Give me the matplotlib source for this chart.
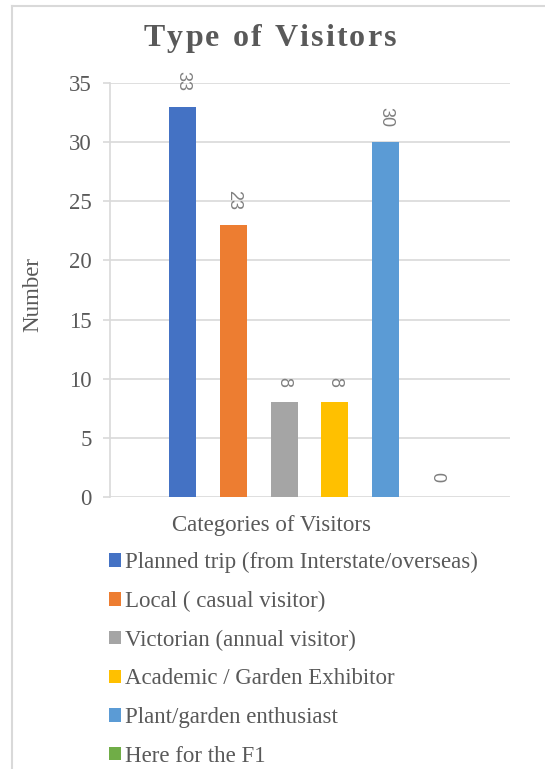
import matplotlib
matplotlib.use("Agg")
import matplotlib.pyplot as plt
from matplotlib.patches import Patch
from matplotlib.lines import Line2D

categories = ["Planned trip (from Interstate/overseas)", "Local ( casual visitor)",
              "Victorian (annual visitor)", "Academic / Garden Exhibitor",
              "Plant/garden enthusiast", "Here for the F1"]
values = [33, 23, 8, 8, 30, 0]
colors = ["#4472C4", "#ED7D31", "#A5A5A5", "#FFC000", "#5B9BD5", "#70AD47"]
yticks = [0, 5, 10, 15, 20, 25, 30, 35]

TXT = "#595959"
GRID = "#D9D9D9"
SERIF = "Liberation Serif"

W, H = 545, 769
fig = plt.figure(figsize=(W / 100, H / 100), dpi=100)

# outer chart border (left and top visible)
fig.add_artist(Line2D([12 / W, 12 / W], [0, 1 - 6 / H], color=GRID, lw=1.5, transform=fig.transFigure))
fig.add_artist(Line2D([12 / W, 1], [1 - 6 / H, 1 - 6 / H], color=GRID, lw=1.5, transform=fig.transFigure))

ax = fig.add_axes([110 / W, 1 - 497 / H, 400 / W, 414 / H])
xs = list(range(len(values)))
bars = ax.bar(xs, values, width=0.53, color=colors, zorder=3)
ax.set_xlim(-1.427, 6.447)
ax.set_ylim(0, 35)
ax.set_yticks(yticks)
ax.set_yticklabels([str(t) for t in yticks], fontsize=16.5, family=SERIF, color=TXT)
ax.set_xticks([])
ax.grid(axis="y", color=GRID, lw=1.2, zorder=0)
for s in ["top", "right", "bottom"]:
    ax.spines[s].set_visible(False)
ax.spines["left"].set_color(GRID)
ax.spines["left"].set_linewidth(1.2)
ax.tick_params(axis="y", direction="out", length=5, color=GRID, width=1.2, pad=8)

for x, v in zip(xs, values):
    ax.annotate(str(v), (x, v), xytext=(0, 11), textcoords="offset points",
                rotation=270, ha="center", va="bottom", fontsize=13,
                family="Liberation Sans", color="#7F7F7F")

fig.text(33 / W, 1 - 295 / H, "Number", rotation=90, ha="center", va="center",
         fontsize=16.5, family=SERIF, color=TXT)
fig.text(271 / W, 1 - 525 / H, "Categories of Visitors", ha="center", va="center",
         fontsize=16.5, family=SERIF, color=TXT)

# title with letter spacing
title = "Type of Visitors"
fig.canvas.draw()
r = fig.canvas.get_renderer()
tprops = dict(fontsize=23, family=SERIF, weight="bold", color=TXT)
widths = []
for ch in title:
    t = fig.text(0, 0, ch if ch != " " else "n", **tprops)
    bb = t.get_window_extent(r)
    widths.append(bb.width if ch != " " else bb.width * 0.5)
    t.remove()
spacing = 2.1
total = sum(widths) + spacing * (len(title) - 1)
x0 = 270 - total / 2
for ch, w in zip(title, widths):
    if ch != " ":
        fig.text(x0 / W, 1 - 46 / H, ch, ha="left", va="baseline", **tprops)
    x0 += w + spacing

handles = [Patch(facecolor=c, edgecolor="none") for c in colors]
leg = fig.legend(handles, categories, loc="upper left", bbox_to_anchor=(109 / W, 1 - 552 / H),
                 frameon=False, prop=dict(family=SERIF, size=16.5), handlelength=0.52,
                 handleheight=0.52, handletextpad=0.18, labelspacing=0.77, borderaxespad=0,
                 borderpad=0)
for t in leg.get_texts():
    t.set_color(TXT)

fig.savefig("out.png", dpi=100)
